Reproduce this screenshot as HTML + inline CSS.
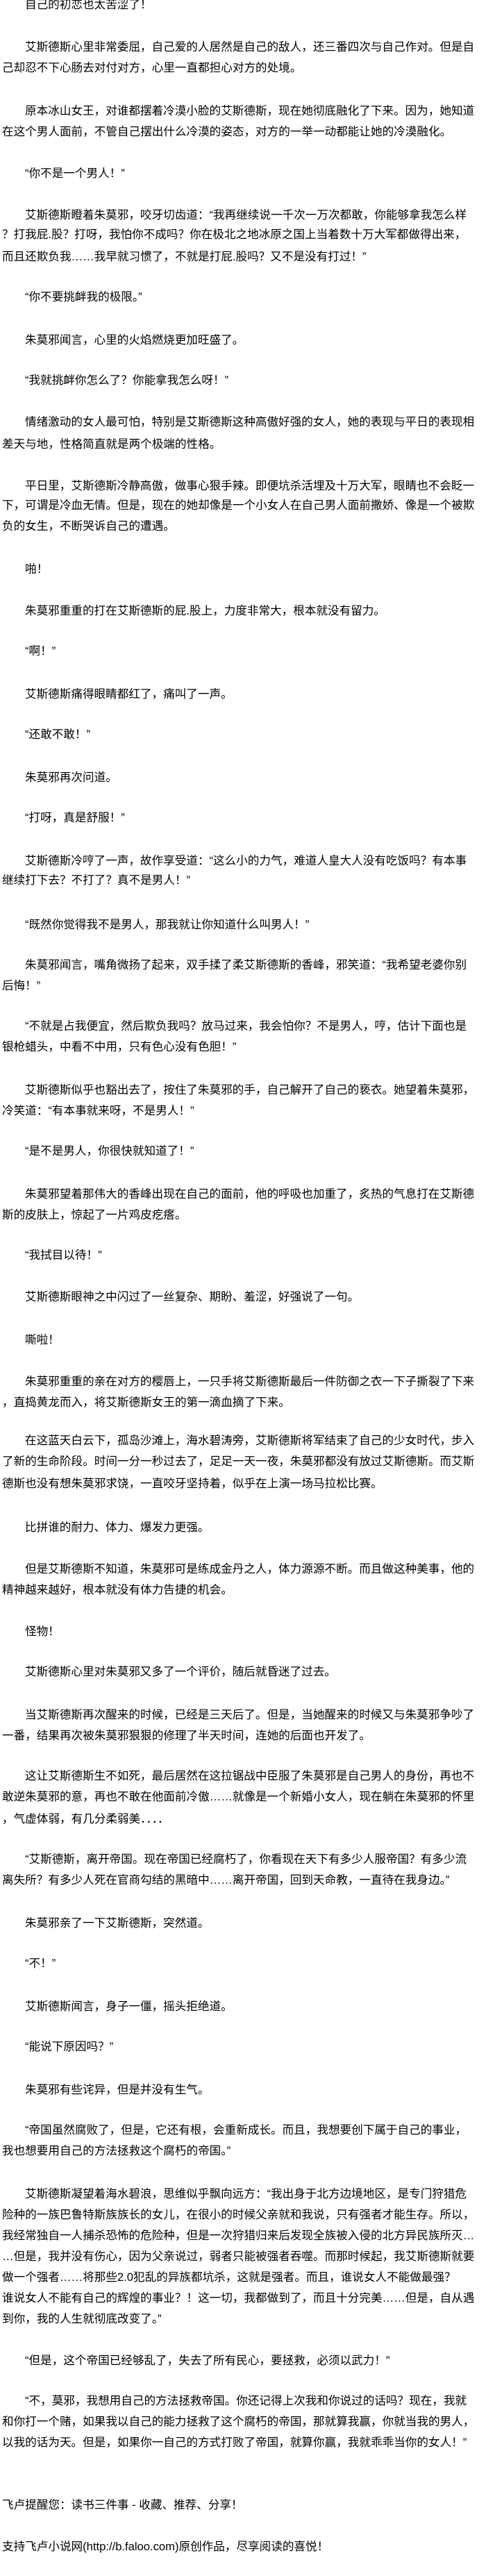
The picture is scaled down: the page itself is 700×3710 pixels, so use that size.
<!DOCTYPE html>
<html><head><meta charset="utf-8"><style>
html,body{margin:0;padding:0;background:#fff;}
body{width:700px;height:3710px;position:relative;overflow:hidden;font-family:"Liberation Sans","Noto Sans CJK SC",sans-serif;font-size:16.6px;color:#000;}
div{position:absolute;left:3px;white-space:nowrap;line-height:30px;height:30px;}
.i{left:36px;}
</style></head><body>
<div class="i" style="top:-8px">自己的初恋也太苦涩了！</div>
<div class="i" style="top:53px">艾斯德斯心里非常委屈，自己爱的人居然是自己的敌人，还三番四次与自己作对。但是自</div>
<div style="top:83px">己却忍不下心肠去对付对方，心里一直都担心对方的处境。</div>
<div class="i" style="top:145px">原本冰山女王，对谁都摆着冷漠小脸的艾斯德斯，现在她彻底融化了下来。因为，她知道</div>
<div style="top:175px">在这个男人面前，不管自己摆出什么冷漠的姿态，对方的一举一动都能让她的冷漠融化。</div>
<div class="i" style="top:235px">“你不是一个男人！”</div>
<div class="i" style="top:295px">艾斯德斯瞪着朱莫邪，咬牙切齿道：“我再继续说一千次一万次都敢，你能够拿我怎么样</div>
<div style="top:323px">？打我屁.股？打呀，我怕你不成吗？你在极北之地冰原之国上当着数十万大军都做得出来，</div>
<div style="top:355px">而且还欺负我……我早就习惯了，不就是打屁.股吗？又不是没有打过！”</div>
<div class="i" style="top:413px">“你不要挑衅我的极限。”</div>
<div class="i" style="top:475px">朱莫邪闻言，心里的火焰燃烧更加旺盛了。</div>
<div class="i" style="top:533px">“我就挑衅你怎么了？你能拿我怎么呀！”</div>
<div class="i" style="top:593px">情绪激动的女人最可怕，特别是艾斯德斯这种高傲好强的女人，她的表现与平日的表现相</div>
<div style="top:625px">差天与地，性格简直就是两个极端的性格。</div>
<div class="i" style="top:685px">平日里，艾斯德斯冷静高傲，做事心狠手辣。即便坑杀活埋及十万大军，眼睛也不会眨一</div>
<div style="top:713px">下，可谓是冷血无情。但是，现在的她却像是一个小女人在自己男人面前撒娇、像是一个被欺</div>
<div style="top:743px">负的女生，不断哭诉自己的遭遇。</div>
<div class="i" style="top:805px">啪！</div>
<div class="i" style="top:865px">朱莫邪重重的打在艾斯德斯的屁.股上，力度非常大，根本就没有留力。</div>
<div class="i" style="top:923px">“啊！”</div>
<div class="i" style="top:985px">艾斯德斯痛得眼睛都红了，痛叫了一声。</div>
<div class="i" style="top:1043px">“还敢不敢！”</div>
<div class="i" style="top:1105px">朱莫邪再次问道。</div>
<div class="i" style="top:1163px">“打呀，真是舒服！”</div>
<div class="i" style="top:1225px">艾斯德斯冷哼了一声，故作享受道：“这么小的力气，难道人皇大人没有吃饭吗？有本事</div>
<div style="top:1253px">继续打下去？不打了？真不是男人！”</div>
<div class="i" style="top:1317px">“既然你觉得我不是男人，那我就让你知道什么叫男人！”</div>
<div class="i" style="top:1375px">朱莫邪闻言，嘴角微扬了起来，双手揉了柔艾斯德斯的香峰，邪笑道：“我希望老婆你别</div>
<div style="top:1405px">后悔！”</div>
<div class="i" style="top:1463px">“不就是占我便宜，然后欺负我吗？放马过来，我会怕你？不是男人，哼，估计下面也是</div>
<div style="top:1493px">银枪蜡头，中看不中用，只有色心没有色胆！”</div>
<div class="i" style="top:1555px">艾斯德斯似乎也豁出去了，按住了朱莫邪的手，自己解开了自己的亵衣。她望着朱莫邪，</div>
<div style="top:1585px">冷笑道：“有本事就来呀，不是男人！”</div>
<div class="i" style="top:1643px">“是不是男人，你很快就知道了！”</div>
<div class="i" style="top:1705px">朱莫邪望着那伟大的香峰出现在自己的面前，他的呼吸也加重了，炙热的气息打在艾斯德</div>
<div style="top:1735px">斯的皮肤上，惊起了一片鸡皮疙瘩。</div>
<div class="i" style="top:1793px">“我拭目以待！”</div>
<div class="i" style="top:1853px">艾斯德斯眼神之中闪过了一丝复杂、期盼、羞涩，好强说了一句。</div>
<div class="i" style="top:1915px">嘶啦！</div>
<div class="i" style="top:1975px">朱莫邪重重的亲在对方的樱唇上，一只手将艾斯德斯最后一件防御之衣一下子撕裂了下来</div>
<div style="top:2005px">，直捣黄龙而入，将艾斯德斯女王的第一滴血摘了下来。</div>
<div class="i" style="top:2060px">在这蓝天白云下，孤岛沙滩上，海水碧涛旁，艾斯德斯将军结束了自己的少女时代，步入</div>
<div style="top:2090px">了新的生命阶段。时间一分一秒过去了，足足一天一夜，朱莫邪都没有放过艾斯德斯。而艾斯</div>
<div style="top:2122px">德斯也没有想朱莫邪求饶，一直咬牙坚持着，似乎在上演一场马拉松比赛。</div>
<div class="i" style="top:2185px">比拼谁的耐力、体力、爆发力更强。</div>
<div class="i" style="top:2245px">但是艾斯德斯不知道，朱莫邪可是练成金丹之人，体力源源不断。而且做这种美事，他的</div>
<div style="top:2275px">精神越来越好，根本就没有体力告捷的机会。</div>
<div class="i" style="top:2335px">怪物！</div>
<div class="i" style="top:2393px">艾斯德斯心里对朱莫邪又多了一个评价，随后就昏迷了过去。</div>
<div class="i" style="top:2455px">当艾斯德斯再次醒来的时候，已经是三天后了。但是，当她醒来的时候又与朱莫邪争吵了</div>
<div style="top:2485px">一番，结果再次被朱莫邪狠狠的修理了半天时间，连她的后面也开发了。</div>
<div class="i" style="top:2543px">这让艾斯德斯生不如死，最后居然在这拉锯战中臣服了朱莫邪是自己男人的身份，再也不</div>
<div style="top:2573px">敢逆朱莫邪的意，再也不敢在他面前冷傲……就像是一个新婚小女人，现在躺在朱莫邪的怀里</div>
<div style="top:2605px">，气虚体弱，有几分柔弱美．．．．</div>
<div class="i" style="top:2663px">“艾斯德斯，离开帝国。现在帝国已经腐朽了，你看现在天下有多少人服帝国？有多少流</div>
<div style="top:2693px">离失所？有多少人死在官商勾结的黑暗中……离开帝国，回到天命教，一直待在我身边。”</div>
<div class="i" style="top:2755px">朱莫邪亲了一下艾斯德斯，突然道。</div>
<div class="i" style="top:2813px">“不！”</div>
<div class="i" style="top:2875px">艾斯德斯闻言，身子一僵，摇头拒绝道。</div>
<div class="i" style="top:2933px">“能说下原因吗？”</div>
<div class="i" style="top:2995px">朱莫邪有些诧异，但是并没有生气。</div>
<div class="i" style="top:3053px">“帝国虽然腐败了，但是，它还有根，会重新成长。而且，我想要创下属于自己的事业，</div>
<div style="top:3083px">我也想要用自己的方法拯救这个腐朽的帝国。”</div>
<div class="i" style="top:3145px">艾斯德斯凝望着海水碧浪，思维似乎飘向远方：“我出身于北方边境地区，是专门狩猎危</div>
<div style="top:3175px">险种的一族巴鲁特斯族族长的女儿，在很小的时候父亲就和我说，只有强者才能生存。所以，</div>
<div style="top:3205px">我经常独自一人捕杀恐怖的危险种，但是一次狩猎归来后发现全族被入侵的北方异民族所灭…</div>
<div style="top:3235px">…但是，我并没有伤心，因为父亲说过，弱者只能被强者吞噬。而那时候起，我艾斯德斯就要</div>
<div style="top:3265px">做一个强者……将那些2.0犯乱的异族都坑杀，这就是强者。而且，谁说女人不能做最强？</div>
<div style="top:3295px">谁说女人不能有自己的辉煌的事业？！这一切，我都做到了，而且十分完美……但是，自从遇</div>
<div style="top:3325px">到你，我的人生就彻底改变了。”</div>
<div class="i" style="top:3385px">“但是，这个帝国已经够乱了，失去了所有民心，要拯救，必须以武力！”</div>
<div class="i" style="top:3443px">“不，莫邪，我想用自己的方法拯救帝国。你还记得上次我和你说过的话吗？现在，我就</div>
<div style="top:3473px">和你打一个赌，如果我以自己的能力拯救了这个腐朽的帝国，那就算我赢，你就当我的男人，</div>
<div style="top:3503px">以我的话为天。但是，如果你一自己的方式打败了帝国，就算你赢，我就乖乖当你的女人！”</div>
<div style="top:3593px">飞卢提醒您：读书三件事 - 收藏、推荐、分享！</div>
<div style="top:3653px">支持飞卢小说网(http://b.faloo.com)原创作品，尽享阅读的喜悦！</div>
</body></html>
